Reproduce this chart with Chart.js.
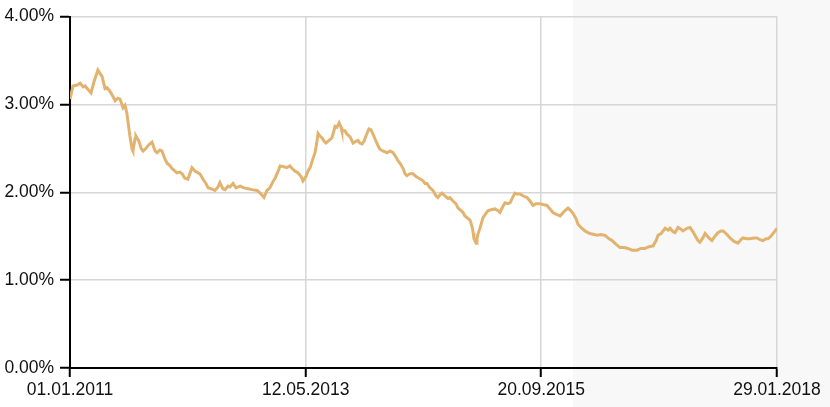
<!DOCTYPE html>
<html>
<head>
<meta charset="utf-8">
<script src="https://cdn.jsdelivr.net/npm/chart.js@4"></script>
<style>
  body { margin: 0; background: #fff; }
  #wrap { width: 830px; height: 407px; }
</style>
</head>
<body>
<div id="wrap"><canvas id="my-chart" width="830" height="407"></canvas></div>
<script>
// days since 01.01.2011
const days = [0, 11, 26, 37, 48, 55, 66, 77, 88, 102, 110, 117, 128, 135, 146, 157, 165, 175, 183, 194,
    201, 208, 219, 227, 230, 238, 241, 252, 260, 267, 278, 285, 292, 300, 311, 318, 329, 336, 347, 355,
    366, 373, 384, 391, 402, 410, 420, 431, 439, 446, 457, 468, 475, 486, 497, 505, 516, 530, 541, 548,
    559, 567, 578, 585, 596, 607, 622, 636, 651, 665, 684, 695, 709, 720, 731, 742, 750, 761, 768, 782,
    793, 804, 812, 823, 834, 845, 852, 863, 870, 878, 888, 896, 903, 907, 914, 921, 929, 936, 947, 958,
    965, 969, 976, 984, 991, 994, 1005, 1013, 1024, 1035, 1046, 1053, 1060, 1068, 1075, 1082, 1093, 1101, 1108, 1119,
    1126, 1133, 1144, 1159, 1170, 1181, 1192, 1199, 1207, 1218, 1225, 1232, 1243, 1254, 1265, 1280, 1291, 1298, 1305, 1316,
    1327, 1338, 1345, 1353, 1360, 1371, 1382, 1389, 1400, 1411, 1419, 1430, 1437, 1444, 1452, 1463, 1470, 1474, 1477, 1485,
    1488, 1492, 1499, 1510, 1521, 1528, 1539, 1554, 1565, 1572, 1583, 1591, 1601, 1609, 1620, 1627, 1634, 1645, 1656, 1671,
    1682, 1693, 1704, 1718, 1729, 1744, 1755, 1766, 1777, 1792, 1803, 1810, 1821, 1828, 1839, 1850, 1857, 1868, 1883, 1894,
    1901, 1916, 1927, 1941, 1956, 1971, 1982, 1996, 2011, 2026, 2040, 2055, 2073, 2088, 2102, 2117, 2132, 2143, 2150, 2161,
    2176, 2187, 2194, 2205, 2212, 2223, 2234, 2241, 2256, 2267, 2278, 2285, 2296, 2303, 2314, 2322, 2336, 2347, 2358, 2369,
    2380, 2388, 2402, 2413, 2428, 2442, 2453, 2461, 2475, 2486, 2501, 2512, 2523, 2534, 2545, 2552, 2563, 2570, 2578, 2585];

const yields = [3.06, 3.21, 3.22, 3.24, 3.20, 3.21, 3.17, 3.13, 3.26, 3.39, 3.35, 3.32, 3.18, 3.19, 3.15, 3.09, 3.04, 3.07, 3.06, 2.96,
    2.99, 2.90, 2.64, 2.49, 2.47, 2.61, 2.64, 2.58, 2.50, 2.47, 2.50, 2.53, 2.55, 2.57, 2.47, 2.45, 2.48, 2.47, 2.38, 2.33,
    2.30, 2.27, 2.24, 2.22, 2.23, 2.21, 2.16, 2.15, 2.22, 2.28, 2.24, 2.22, 2.21, 2.15, 2.10, 2.05, 2.04, 2.02, 2.06, 2.11,
    2.04, 2.03, 2.07, 2.06, 2.10, 2.05, 2.07, 2.05, 2.04, 2.03, 2.02, 1.99, 1.94, 2.02, 2.05, 2.12, 2.16, 2.24, 2.30, 2.29,
    2.28, 2.30, 2.27, 2.24, 2.22, 2.18, 2.13, 2.18, 2.24, 2.28, 2.38, 2.45, 2.58, 2.67, 2.64, 2.62, 2.58, 2.56, 2.59, 2.62,
    2.70, 2.75, 2.74, 2.79, 2.74, 2.70, 2.70, 2.66, 2.63, 2.56, 2.58, 2.59, 2.56, 2.55, 2.58, 2.64, 2.72, 2.71, 2.66, 2.58,
    2.53, 2.49, 2.47, 2.45, 2.47, 2.45, 2.40, 2.36, 2.33, 2.27, 2.21, 2.19, 2.21, 2.21, 2.18, 2.15, 2.13, 2.10, 2.10, 2.05,
    2.02, 1.96, 1.94, 1.97, 1.99, 1.96, 1.93, 1.94, 1.90, 1.87, 1.82, 1.79, 1.77, 1.73, 1.71, 1.68, 1.61, 1.54, 1.47, 1.42,
    1.47, 1.53, 1.59, 1.71, 1.76, 1.79, 1.80, 1.81, 1.79, 1.77, 1.84, 1.88, 1.87, 1.88, 1.95, 1.99, 1.98, 1.98, 1.96, 1.94,
    1.90, 1.85, 1.87, 1.87, 1.86, 1.85, 1.81, 1.77, 1.75, 1.73, 1.77, 1.79, 1.82, 1.80, 1.76, 1.70, 1.64, 1.60, 1.56, 1.54,
    1.53, 1.52, 1.51, 1.52, 1.51, 1.47, 1.45, 1.41, 1.37, 1.37, 1.36, 1.34, 1.34, 1.36, 1.36, 1.38, 1.39, 1.45, 1.51, 1.53,
    1.59, 1.57, 1.59, 1.55, 1.54, 1.60, 1.58, 1.56, 1.59, 1.60, 1.55, 1.51, 1.45, 1.43, 1.48, 1.53, 1.48, 1.45, 1.50, 1.54,
    1.56, 1.56, 1.52, 1.48, 1.44, 1.42, 1.46, 1.48, 1.47, 1.47, 1.48, 1.48, 1.46, 1.45, 1.47, 1.47, 1.50, 1.53, 1.56, 1.59];

const tickDays = [0, 862, 1723, 2585];
const tickLabels = ["01.01.2011", "12.05.2013", "20.09.2015", "29.01.2018"];
const shadeStartDay = 1839;

const points = days.map(function(d, i) {
    return { x: d, y: yields[i] };
});

const shadePlugin = {
    id: "shade",
    beforeDraw: function(chart) {
        let ctx = chart.ctx;
        let left = chart.scales.x.getPixelForValue(shadeStartDay);
        ctx.save();
        ctx.fillStyle = "#f8f8f8";
        ctx.fillRect(left, 0, chart.width - left, chart.height);
        ctx.restore();
    }
};

const font = { family: "'Liberation Sans', Arial, sans-serif", size: 17.5 };

new Chart(document.getElementById("my-chart").getContext("2d"), {
    type: "line",
    data: {
        datasets: [{
            data: points,
            borderColor: "#e2b36f",
            borderWidth: 3,
            pointRadius: 0,
            tension: 0,
            fill: false
        }]
    },
    options: {
        responsive: false,
        animation: false,
        layout: { padding: { top: 15, right: 53, left: 0, bottom: 0 } },
        plugins: { legend: { display: false }, tooltip: { enabled: false } },
        scales: {
            x: {
                type: "linear",
                min: 0,
                max: 2585,
                afterBuildTicks: function(scale) {
                    scale.ticks = tickDays.map(function(v) { return { value: v }; });
                },
                afterFit: function(scale) { scale.height = 39; },
                ticks: {
                    color: "#111",
                    font: font,
                    padding: 3,
                    maxRotation: 0,
                    autoSkip: false,
                    callback: function(value) {
                        return tickLabels[tickDays.indexOf(value)];
                    }
                },
                grid: { color: "#d6d6d6", lineWidth: 1.5, tickColor: "#000", tickLength: 9, tickWidth: 2 },
                border: { color: "#000", width: 2 }
            },
            y: {
                min: 0,
                max: 4,
                afterFit: function(scale) { scale.width = 70; },
                ticks: {
                    stepSize: 1,
                    color: "#111",
                    font: font,
                    padding: 6,
                    callback: function(value) { return value.toFixed(2) + "%"; }
                },
                grid: { color: "#d6d6d6", lineWidth: 1.5, tickColor: "#000", tickLength: 10, tickWidth: 2 },
                border: { color: "#000", width: 2 }
            }
        }
    },
    plugins: [shadePlugin]
});
</script>
</body>
</html>
